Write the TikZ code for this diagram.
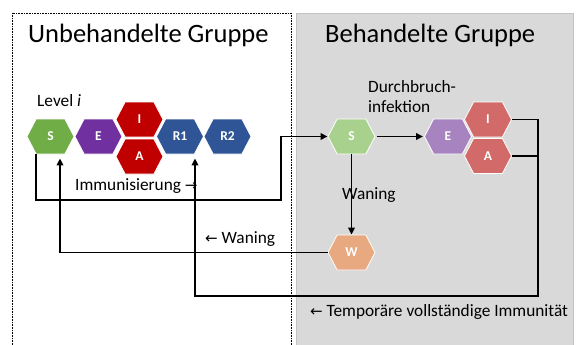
\documentclass[tikz,border=0pt]{standalone}
\usepackage{fontspec}
\setmainfont{Carlito}
\newfontfamily\symfont{DejaVu Sans}
\usetikzlibrary{shapes.symbols,arrows.meta}

\definecolor{sgreen}{RGB}{112,173,71}
\definecolor{epurple}{RGB}{112,48,160}
\definecolor{ired}{RGB}{192,0,0}
\definecolor{rblue}{RGB}{47,85,151}
\definecolor{sgreenL}{RGB}{169,209,142}
\definecolor{epurpleL}{RGB}{167,132,192}
\definecolor{iredL}{RGB}{210,106,106}
\definecolor{worange}{RGB}{233,169,128}
\definecolor{bggray}{RGB}{217,217,217}
\definecolor{bgline}{RGB}{195,195,195}

\tikzset{
  hexa/.style={signal, signal to=east and west, signal pointer angle=125,
    minimum width=47pt, minimum height=35pt, inner sep=0pt,
    draw=white, line width=0.8pt, text=white,
    font=\bfseries\fontsize{13.5}{13.5}\selectfont},
  flow/.style={line width=1.8pt, -{Triangle[length=7pt,width=6.5pt]}},
  line/.style={line width=1.8pt},
  lbl/.style={font=\fontsize{17.3}{20}\selectfont, inner sep=0pt, anchor=west},
  title/.style={font=\fontsize{26.5}{30}\selectfont, inner sep=0pt, anchor=west},
}
\newcommand{\arr}[1]{{\symfont\fontsize{15}{15}\selectfont#1}}

\begin{document}
\begin{tikzpicture}[x=1pt, y=-1pt]
   \useasboundingbox (0,0) rectangle (581,345);

   % group frames
   \draw[densely dotted, line width=0.6pt] (12,345) -- (12,13) -- (291,13) -- (291,345);
   \fill[bggray] (296,13) rectangle (573,345);
   \draw[bgline, line width=0.6pt] (296,345) -- (296,13) -- (573,13) -- (573,345);

   \node[title] (tleft) at (28,35) {Unbehandelte Gruppe};
   \node[title] (tright) at (325,35) {Behandelte Gruppe};

   % untreated compartments
   \node[hexa, fill=sgreen]  (S)  at (50.5,136.5) {S};
   \node[hexa, fill=epurple] (E)  at (98.5,136.5) {E};
   \node[hexa, fill=ired]    (I)  at (139.5,119.5) {I};
   \node[hexa, fill=ired]    (A)  at (139.5,156.5) {A};
   \node[hexa, fill=rblue]   (R1) at (180,136.5) {R1};
   \node[hexa, fill=rblue]   (R2) at (227.5,136.5) {R2};

   % treated compartments
   \node[hexa, fill=sgreenL]  (S2) at (351.5,136.5) {S};
   \node[hexa, fill=epurpleL] (E2) at (448,136.5) {E};
   \node[hexa, fill=iredL]    (I2) at (488,119.5) {I};
   \node[hexa, fill=iredL]    (A2) at (488,156) {A};
   \node[hexa, fill=worange]  (W)  at (351.5,252.5) {W};

   \coordinate (imm) at (281,200);
   \coordinate (back) at (538,296);

   % connectors
   \draw[flow] ([xshift=-14.5pt]S.south) |- (imm) |- (S2.west);
   \draw[flow] (W.west) -| ([xshift=9.5pt,yshift=-4pt]S.south);
   \draw[flow] (I2.east) -| (back) -| ([xshift=15pt,yshift=-4pt]R1.south);
   \draw[line] (A2.east) -- (A2.east -| back);
   \draw[flow] ([xshift=2pt]S2.east) -- ([xshift=-1pt]E2.west);
   \draw[flow] (S2.south) -- (W.north);

   % labels
   \node[lbl] (lvl) at (37,101) {Level \textit{i}};
   \node[lbl] (limm) at (75,186) {Immunisierung \arr{→}};
   \node[lbl] (lwan) at (205,239) {\arr{←} Waning};
   \node[lbl] (lwan2) at (342,195) {Waning};
   \node[lbl, anchor=north west, align=left] (ldur) at (368,80) {Durchbruch-\\infektion};
   \node[lbl] (ltmp) at (310,312) {\arr{←} Temporäre vollständige Immunität};
\end{tikzpicture}
\end{document}
